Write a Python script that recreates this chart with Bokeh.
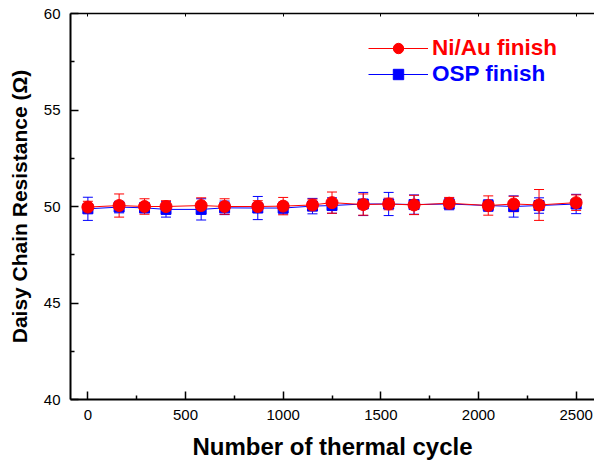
from bokeh.plotting import figure
from bokeh.models import (ColumnDataSource, Whisker, TeeHead, LinearAxis, Legend,
                          LegendItem, Range1d, FixedTicker)
from bokeh.embed import file_html
from bokeh.resources import INLINE

# ---- data ----
cycles = [0, 160, 290, 400, 580, 700, 870, 1000, 1150, 1250, 1410, 1540, 1670, 1850, 2050, 2180, 2310, 2500]
niau = [49.97, 50.05, 50.0, 50.0, 50.05, 50.0, 50.0, 50.02, 50.08, 50.2, 50.1, 50.13, 50.08, 50.17, 50.05, 50.13, 50.08, 50.2]
niau_err = [0.3, 0.6, 0.4, 0.3, 0.4, 0.4, 0.3, 0.45, 0.3, 0.55, 0.55, 0.3, 0.5, 0.3, 0.5, 0.4, 0.8, 0.4]
osp = [49.88, 49.97, 49.93, 49.85, 49.85, 49.93, 49.92, 49.92, 50.02, 50.05, 50.13, 50.13, 50.1, 50.13, 50.05, 50.0, 50.05, 50.13]
osp_err = [0.6, 0.3, 0.25, 0.4, 0.55, 0.35, 0.6, 0.3, 0.4, 0.4, 0.6, 0.6, 0.5, 0.3, 0.3, 0.55, 0.4, 0.5]
x_ticks = [0, 500, 1000, 1500, 2000, 2500]
x_minor = [250, 750, 1250, 1750, 2250]
y_ticks = [40, 45, 50, 55, 60]
y_minor = [42.5, 47.5, 52.5, 57.5]

RED = "#ff0000"
BLUE = "#0000ff"
FONT = "Liberation Sans"

src_n = ColumnDataSource(dict(x=cycles, y=niau,
                              lo=[v - e for v, e in zip(niau, niau_err)],
                              hi=[v + e for v, e in zip(niau, niau_err)]))
src_o = ColumnDataSource(dict(x=cycles, y=osp,
                              lo=[v - e for v, e in zip(osp, osp_err)],
                              hi=[v + e for v, e in zip(osp, osp_err)]))

p = figure(width=594, height=464, output_backend="svg", toolbar_location=None,
           x_range=Range1d(-89, 2594), y_range=Range1d(40, 60),
           min_border_left=70, min_border_right=0, min_border_top=13, min_border_bottom=65)
p.outline_line_color = None
p.xgrid.grid_line_color = None
p.ygrid.grid_line_color = None
p.background_fill_color = "white"
p.border_fill_color = "white"

# OSP (blue) first
wo = Whisker(source=src_o, base="x", lower="lo", upper="hi", line_color=BLUE, line_width=1,
             upper_head=TeeHead(size=10, line_color=BLUE, line_width=1),
             lower_head=TeeHead(size=10, line_color=BLUE, line_width=1))
p.add_layout(wo)
lo_ = p.line("x", "y", source=src_o, line_color=BLUE, line_width=1)
so_ = p.scatter("x", "y", source=src_o, marker="square", size=10, fill_color=BLUE, line_color=BLUE)

wn = Whisker(source=src_n, base="x", lower="lo", upper="hi", line_color=RED, line_width=1,
             upper_head=TeeHead(size=10, line_color=RED, line_width=1),
             lower_head=TeeHead(size=10, line_color=RED, line_width=1))
p.add_layout(wn)
ln_ = p.line("x", "y", source=src_n, line_color=RED, line_width=1)
sn_ = p.scatter("x", "y", source=src_n, marker="circle", size=12, fill_color=RED, line_color=RED)

# axes
for ax in (p.xaxis[0], p.yaxis[0]):
    ax.axis_line_width = 2
    ax.axis_line_color = "black"
    ax.major_tick_in = 8
    ax.major_tick_out = 0
    ax.minor_tick_in = 4
    ax.minor_tick_out = 0
    ax.major_tick_line_width = 1.5
    ax.minor_tick_line_width = 1.5
    ax.major_label_text_font = FONT
    ax.major_label_text_font_size = "15px"
    ax.major_label_text_color = "black"
    ax.axis_label_text_font = FONT
    ax.axis_label_text_font_style = "bold"
    ax.axis_label_text_color = "black"
    ax.major_label_standoff = 10

p.xaxis[0].ticker = FixedTicker(ticks=x_ticks, minor_ticks=x_minor)
p.yaxis[0].ticker = FixedTicker(ticks=y_ticks, minor_ticks=y_minor)
p.xaxis[0].axis_label = "Number of thermal cycle"
p.xaxis[0].axis_label_text_font_size = "24px"
p.xaxis[0].axis_label_standoff = 10
p.yaxis[0].axis_label = "Daisy Chain Resistance (Ω)"
p.yaxis[0].axis_label_text_font_size = "21px"
p.yaxis[0].axis_label_standoff = 10

top = LinearAxis(ticker=FixedTicker(ticks=x_ticks, minor_ticks=x_minor),
                 major_label_text_font_size="0px", major_tick_in=3, major_tick_out=0,
                 minor_tick_in=0, minor_tick_out=0, axis_line_width=1.5,
                 major_label_standoff=0)
top.major_label_text_color = None
p.add_layout(top, "above")

# legends (two, to colour each label)
leg_common = dict(glyph_width=60, glyph_height=26, padding=0, spacing=0,
                  label_standoff=4, border_line_color=None, background_fill_alpha=0,
                  label_text_font=FONT, label_text_font_style="bold",
                  label_text_font_size="22.5px", margin=0)
leg1 = Legend(items=[LegendItem(label="Ni/Au finish", renderers=[ln_, sn_])],
              location=(298, 338), label_text_color=RED, **leg_common)
leg2 = Legend(items=[LegendItem(label="OSP finish", renderers=[lo_, so_])],
              location=(298, 312), label_text_color=BLUE, **leg_common)
p.add_layout(leg1)
p.add_layout(leg2)

open("out.html", "w").write(file_html(p, INLINE))
